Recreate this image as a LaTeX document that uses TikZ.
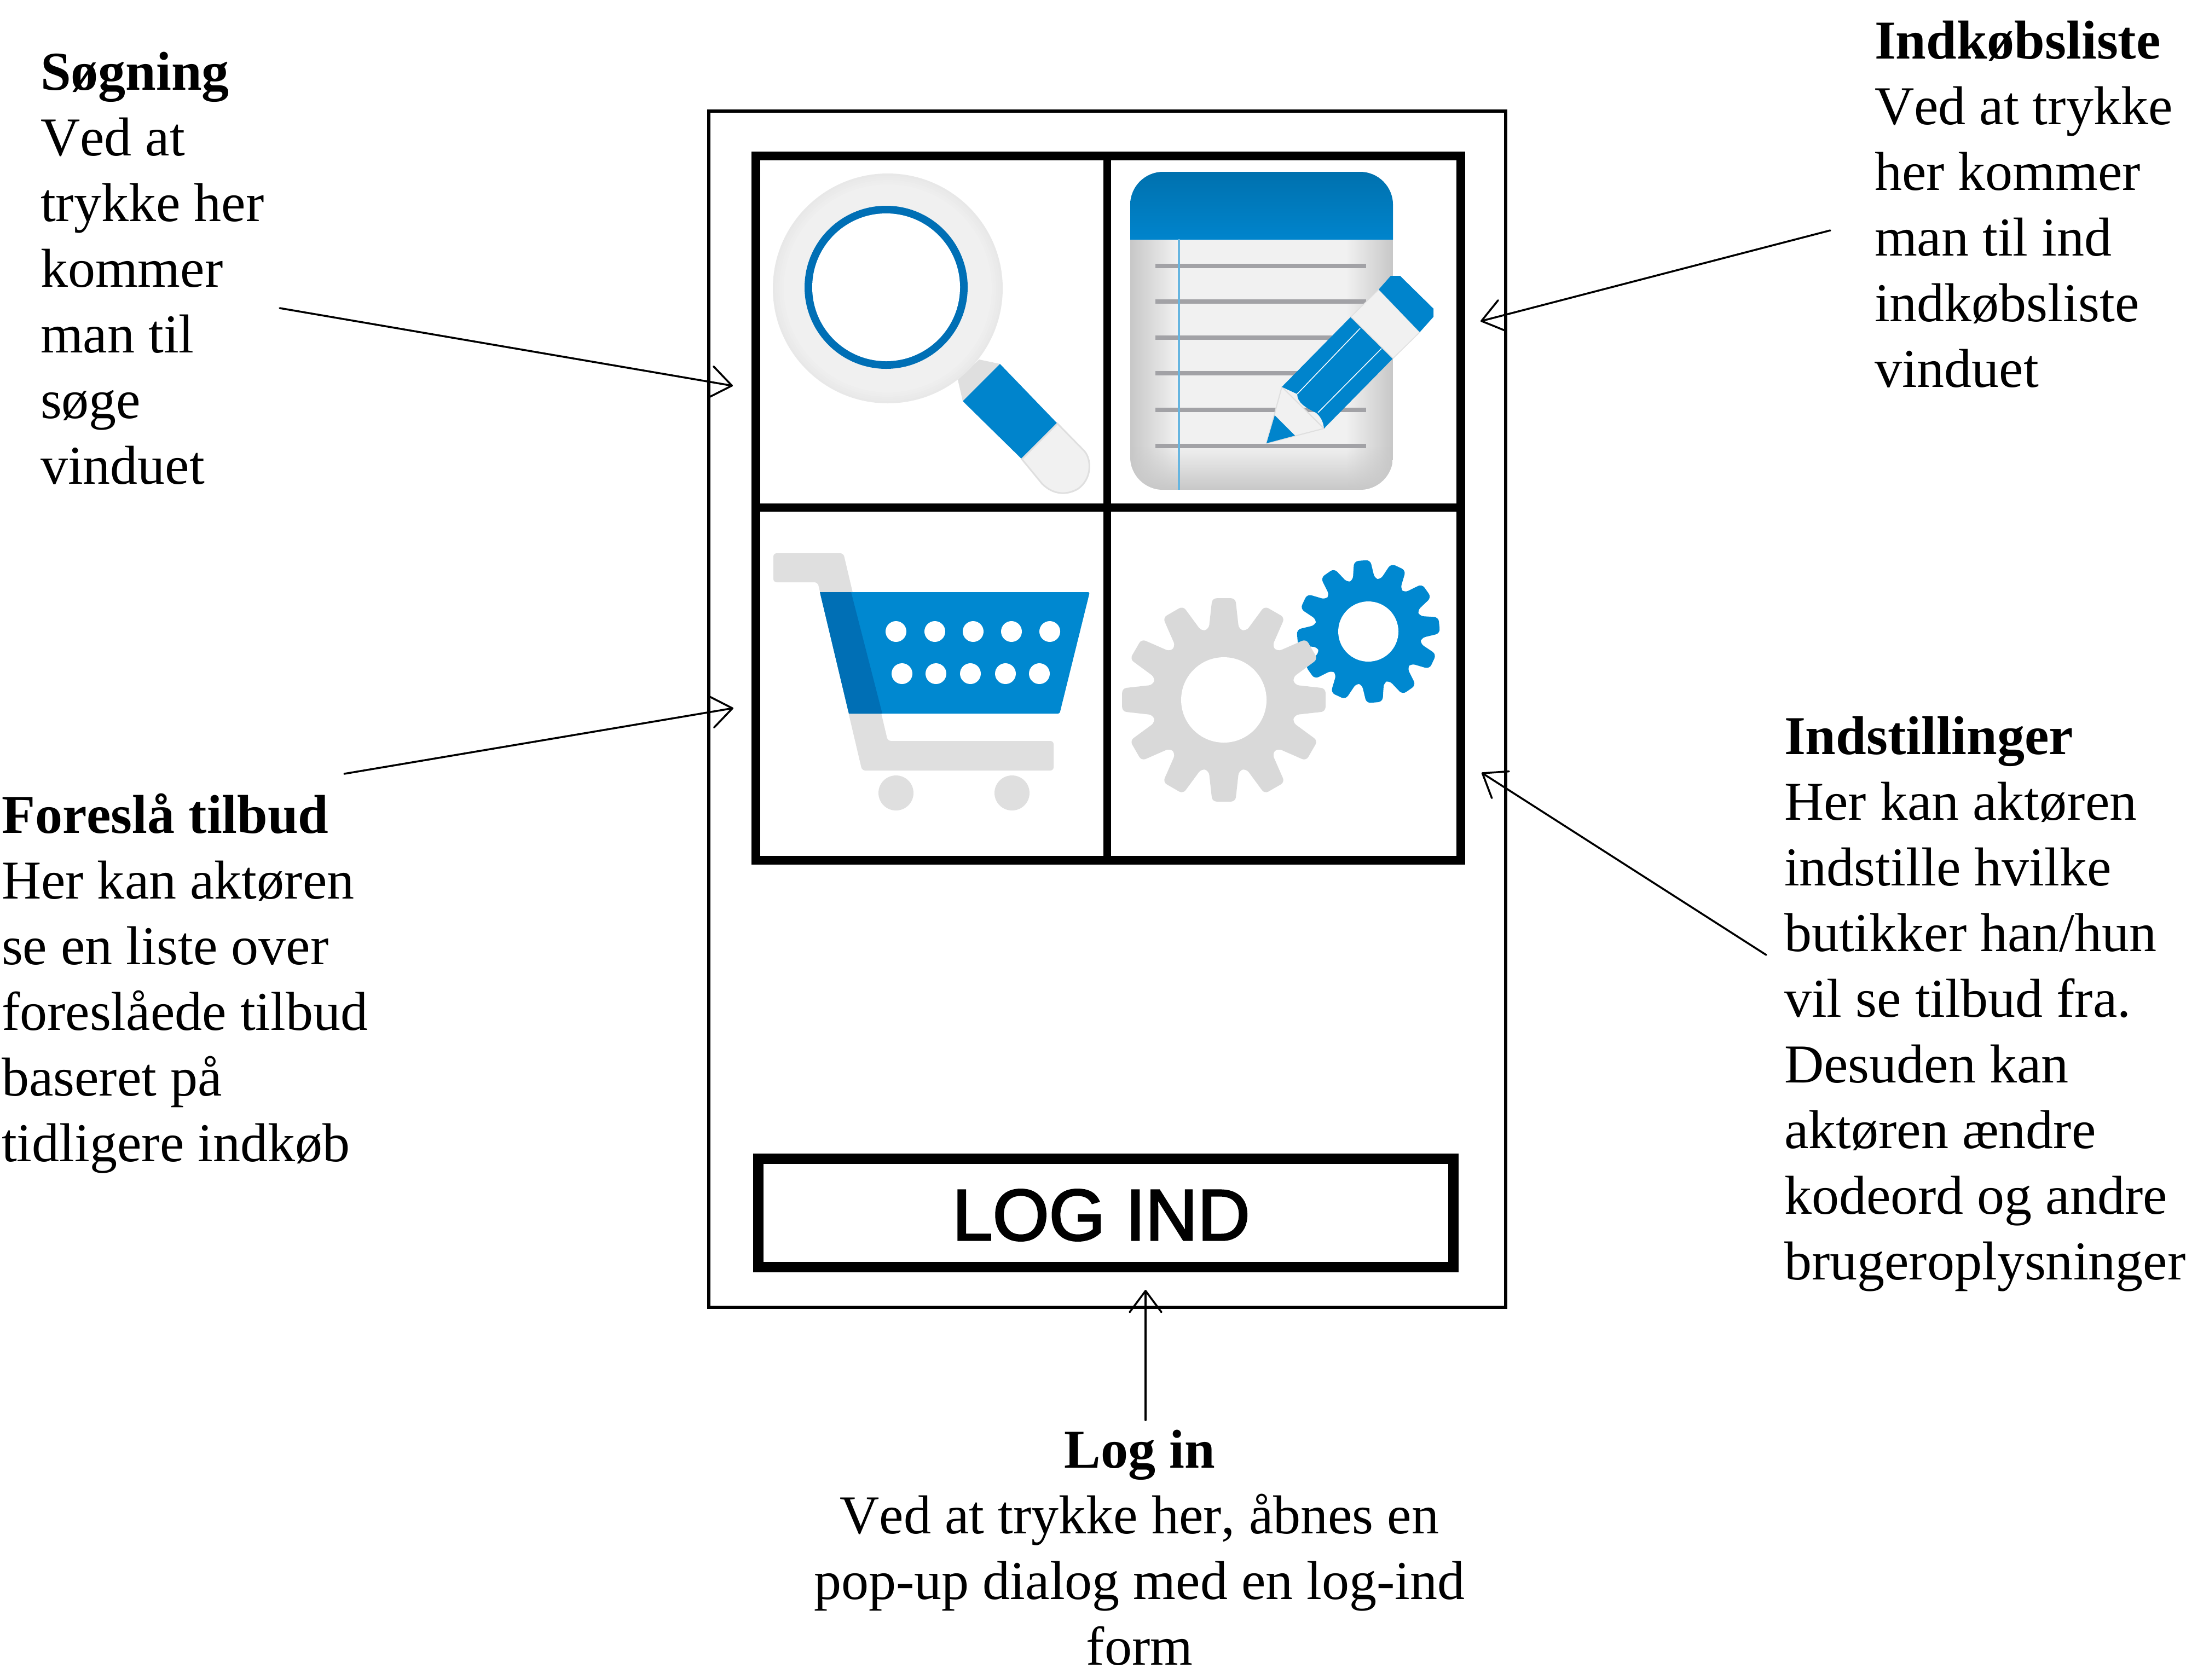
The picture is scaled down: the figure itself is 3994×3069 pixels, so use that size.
\documentclass[tikz,border=0pt]{standalone}
\usepackage{fontspec}
\setmainfont[Kerning=Off]{Liberation Serif}
\newfontfamily\arialfont[FakeBold=2.5]{Liberation Sans}
\usetikzlibrary{arrows.meta,fadings}
\definecolor{iconblue}{HTML}{0084CC}
\definecolor{deepblue}{HTML}{006FB5}
\definecolor{headblue}{HTML}{0071AE}
\definecolor{gearblue}{HTML}{0088D0}
\definecolor{greyedge}{HTML}{C8C8C8}
\definecolor{greyfill}{HTML}{DFDFDF}
\definecolor{greylight}{HTML}{F1F1F1}
\definecolor{greygear}{HTML}{D9D9D9}
\definecolor{ruled}{HTML}{A2A2A6}
\newcommand{\fs}{\rule{0pt}{0.8cm}}
\newcommand{\geartoothed}[7]{% x,y,rot,body,tip,color,hole
  \begin{scope}[shift={(#1,#2)}]
    \fill[#6,rounded corners=0.08cm] ({#3-13}:#4)
      \foreach \i in {0,...,11} {
        -- ({#3+\i*30-12}:#4) -- ({#3+\i*30-6.5}:#5) -- ({#3+\i*30+6.5}:#5) -- ({#3+\i*30+12}:#4)
      } -- cycle;
    \fill[white] (0,0) circle (#7);
  \end{scope}}
\tikzset{
  txt/.style={anchor=north west,inner sep=0pt,outer sep=0pt,align=left,font=\fontsize{28.45}{34.14}\selectfont},
  txtc/.style={anchor=north,inner sep=0pt,outer sep=0pt,align=center,font=\fontsize{28.45}{34.14}\selectfont},
  pointer/.style={line width=0.035cm,line cap=round,-{Straight Barb[length=0.39cm,width=0.58cm,round]}},
  box/.style={anchor=north west,inner sep=0pt,outer sep=0pt,draw=black},
}
\begin{document}
\begin{tikzpicture}[x=0.01cm,y=-0.01cm]
\useasboundingbox (0,0) rectangle (3994,3069);
\fill[white] (0,0) rectangle (3994,3069);

% phone frame
\node[box,line width=0.06cm,minimum width=14.55cm,minimum height=21.85cm] (phone) at (1295,202.5) {};

% ---- magnifier
\fill[greyfill] (1750,694) -- (1789,657) -- (1827,665) -- (1759,733) -- cycle;
\foreach \rr/\cc in {210/78,206/82,202/86,198/90,194/94,190/97}
  \fill[greylight!\cc!greyedge] (1622,527) circle (\rr);
\fill[deepblue] (1619,525) circle (149);
\fill[white] (1619,525) circle (135);
\fill[iconblue] (1827,665) -- (1932,774) -- (1867,839) -- (1759,733) -- cycle;
\fill[greylight,draw=greyfill,line width=0.03cm] (1932,774) -- (1981,824) .. controls (1995,840) and (1995,875) .. (1970,893) .. controls (1950,905) and (1925,905) .. (1904,884) -- (1867,839) -- cycle;

% ---- notepad
\begin{scope}
  \clip[rounded corners=0.6cm] (2065,314) rectangle (2545,895);
  \fill[greylight] (2065,314) rectangle (2545,895);
  \fill[greyedge,path fading=east] (2065,437) rectangle (2150,895);
  \fill[greyedge,path fading=west] (2460,437) rectangle (2545,895);
  \fill[greyedge,path fading=north] (2065,815) rectangle (2545,895);
  \shade[top color=headblue,bottom color=iconblue] (2065,314) rectangle (2545,437);
\end{scope}
\foreach \yy in {485.5,550.5,617,682,749,815}
  \fill[ruled] (2111,\yy-4) rectangle (2496,\yy+4);
\fill[iconblue!60!white] (2152,437) rectangle (2156,895);
% pencil
\fill[greylight,draw=greyfill,line width=0.02cm] (2342,707) -- (2314,810) -- (2419,783) -- cycle;
\fill[iconblue] (2329,759) -- (2366,796) -- (2314,810) -- cycle;
\fill[iconblue] (2468,579) -- (2545,655) -- (2419,783) .. controls (2418,770) and (2412,760) .. (2404,754) .. controls (2385,745) and (2370,735) .. (2370,720) -- (2342,707) -- cycle;
\draw[white,line width=0.015cm] (2370,720) -- (2485,600);
\draw[white,line width=0.015cm] (2408,754) -- (2524,637);
\fill[greylight,draw=greyfill,line width=0.015cm] (2468,579) -- (2519,529) -- (2594,607) -- (2545,655) -- cycle;
\fill[iconblue] (2519,529) -- (2541,504) -- (2558,504) -- (2619,564) -- (2619,579) -- (2594,607) -- cycle;

% ---- cart
\fill[greyfill,rounded corners=0.06cm] (1413,1011) -- (1541,1011) -- (1622,1354) -- (1925,1354) -- (1925,1408) -- (1575,1408) -- (1494,1064) -- (1413,1064) -- cycle;
\fill[gearblue,rounded corners=0.03cm] (1498,1082) -- (1991,1082) -- (1936,1304) -- (1551,1304) -- cycle;
\fill[deepblue] (1498,1082) -- (1555,1082) -- (1612,1304) -- (1551,1304) -- cycle;
\foreach \xx in {1637,1708,1778,1848,1918} \fill[white] (\xx,1154) circle (19);
\foreach \xx in {1648,1710,1773,1837,1899} \fill[white] (\xx,1231) circle (19);
\fill[greyfill] (1637,1449) circle (32);
\fill[greyfill] (1849,1449) circle (32);

% ---- gears
\geartoothed{2500}{1154}{-5}{97}{131}{gearblue}{55}
\geartoothed{2236}{1279}{0}{132}{187}{greygear}{78}

% ---- grid
\node[box,line width=0.16cm,minimum width=12.875cm,minimum height=12.865cm] (grid) at (1380.5,284.5) {};
\draw[black,line width=0.15cm] (grid.west |- 0,927) -- (grid.east |- 0,927);
\draw[black,line width=0.14cm] (2023,284.5) -- (2023,1571);

% ---- button
\node[box,line width=0.19cm,minimum width=12.7cm,minimum height=1.98cm] (login) at (1385,2117) {};
\node[anchor=base,inner sep=0pt,font=\arialfont\fontsize{37.6}{40}\selectfont] (logintext) at (2012,2266) {LOG IND};

% ---- text blocks
\node[txt] (sog) at (74,84.5) {\fs\textbf{Søgning}\\Ved at\\trykke her\\kommer\\man til\\søge\\vinduet};
\node[txt] (ind) at (3425,27) {\fs\textbf{Indkøbsliste}\\Ved at trykke\\her kommer\\man til ind\\indkøbsliste\\vinduet};
\node[txt] (tilbud) at (3,1442) {\fs\textbf{Foreslå tilbud}\\Her kan aktøren\\se en liste over\\foreslåede tilbud\\baseret på\\tidligere indkøb};
\node[txt] (indst) at (3260,1298) {\fs\textbf{Indstillinger}\\Her kan aktøren\\indstille hvilke\\butikker han/hun\\vil se tilbud fra.\\Desuden kan\\aktøren ændre\\kodeord og andre\\brugeroplysninger};
\node[txtc] (log) at (2082,2602) {\fs\textbf{Log in}\\Ved at trykke her, åbnes en\\pop-up dialog med en log-ind\\form};

% ---- arrows
\coordinate (a1s) at (511,563);  \coordinate (a1e) at (1339,705);
\coordinate (a2s) at (3344,421); \coordinate (a2e) at (2705,587);
\coordinate (a3s) at (629,1414); \coordinate (a3e) at (1340,1294);
\coordinate (a4s) at (3227,1745);\coordinate (a4e) at (2707,1412);
\coordinate (a5s) at (2093,2595);\coordinate (a5e) at (2093,2357);
\draw[pointer] (a1s) -- (a1e);
\draw[pointer] (a2s) -- (a2e);
\draw[pointer] (a3s) -- (a3e);
\draw[pointer] (a4s) -- (a4e);
\draw[pointer] (a5s) -- (a5e);
\end{tikzpicture}
\end{document}
